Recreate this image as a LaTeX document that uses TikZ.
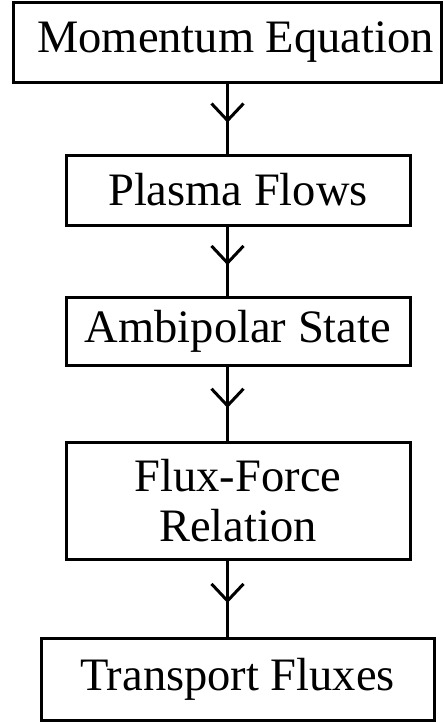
\documentclass[tikz,border=0pt]{standalone}
\usepackage{fontspec}
\setmainfont{Liberation Serif}
\usetikzlibrary{arrows.meta,decorations.markings}

\tikzset{
  stage/.style={draw=black, line width=3pt, inner sep=0pt, align=center,
    font=\fontsize{46.5}{50}\selectfont},
  flow/.style={line width=3pt,
    postaction={decorate},
    decoration={markings, mark=at position 0.56 with
      {\arrow{Straight Barb[length=17pt, width=32pt, line width=3pt]}}}},
}

\begin{document}
\begin{tikzpicture}[x=1pt, y=-1pt]
  \useasboundingbox[fill=white] (0,0) rectangle (443,723);

  % processing stages, top to bottom
  \node[stage, minimum width=428pt, minimum height=80pt] (mom) at (227.5,42) {\hspace*{16pt}Momentum Equation};
  \node[stage, minimum width=344pt, minimum height=70pt] (flows) at (238,190) {Plasma Flows};
  \node[stage, minimum width=344pt, minimum height=68pt] (ambi) at (238,331) {Ambipolar State};
  \node[stage, minimum width=344pt, minimum height=117pt] (ffr) at (238,500.5) {Flux-Force\\Relation};
  \node[stage, minimum width=393pt, minimum height=82pt] (trans) at (237.5,679) {Transport Fluxes};

  % vertical connectors share one axis
  \draw[flow] (mom.south) -- (mom.south |- flows.north);
  \draw[flow] (mom.south |- flows.south) -- (mom.south |- ambi.north);
  \draw[flow] (mom.south |- ambi.south) -- (mom.south |- ffr.north);
  \draw[flow] (mom.south |- ffr.south) -- (mom.south |- trans.north);
\end{tikzpicture}
\end{document}
